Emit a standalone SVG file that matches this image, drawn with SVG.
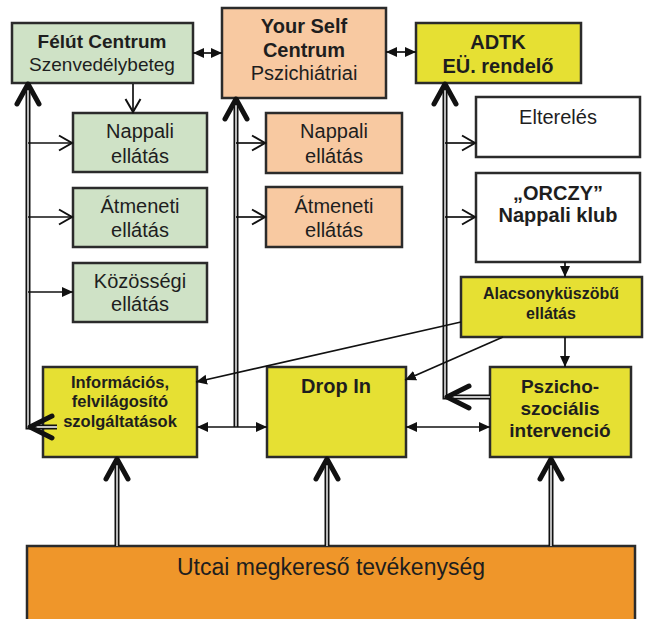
<svg xmlns="http://www.w3.org/2000/svg" width="646" height="619" viewBox="0 0 646 619">
<style>
.box{stroke:#2b2b2b;stroke-width:2.5}
.g{fill:#cfe2c6}.p{fill:#f8c9a1}.y{fill:#e6e033}.w{fill:#ffffff}.o{fill:#ef962a}
text{font-family:"Liberation Sans",Arial,sans-serif;fill:#1e1e1e;text-anchor:middle}
.b{font-weight:bold}
.f20{font-size:20px}.f19{font-size:19px}.f16{font-size:16.5px}.f15{font-size:16px}.f22{font-size:23px}
.thin{fill:none;stroke:#111;stroke-width:1.7}
.dblk{fill:none;stroke:#111;stroke-width:5}
.dblw{fill:none;stroke:#fff;stroke-width:1.4}
.chev{fill:none;stroke:#111;stroke-width:5;stroke-linecap:round;stroke-linejoin:round}
</style>
<defs>
<marker id="fa" markerUnits="userSpaceOnUse" markerWidth="12" markerHeight="12" refX="11" refY="6" orient="auto-start-reverse" viewBox="0 0 12 12">
<path d="M0,1 L11,6 L0,11 z" fill="#111"/>
</marker>
<marker id="oa" markerUnits="userSpaceOnUse" markerWidth="16" markerHeight="18" refX="14" refY="9" orient="auto" viewBox="0 0 16 18">
<path d="M1,1.5 L14,9 L1,16.5" fill="none" stroke="#111" stroke-width="2"/>
</marker>
</defs>

<g id="felut"><rect class="box g" x="12" y="23" width="181" height="60"/>
<text class="b f19" x="102" y="48">Félút Centrum</text>
<text class="f19" x="102" y="71">Szenvedélybeteg</text></g>

<g id="yourself"><rect class="box p" x="222" y="8" width="164" height="90"/>
<text class="b f20" x="304" y="33">Your Self</text>
<text class="b f20" x="304" y="57">Centrum</text>
<text class="f20" x="304" y="80">Pszichiátriai</text></g>

<g id="adtk"><rect class="box y" x="416" y="23" width="165" height="60"/>
<text class="b f20" x="498" y="49">ADTK</text>
<text class="b f20" x="498" y="73">EÜ. rendelő</text></g>

<g id="nappali-g"><rect class="box g" x="73" y="113" width="134" height="59"/>
<text class="f20" x="140" y="138">Nappali</text>
<text class="f20" x="140" y="163">ellátás</text></g>

<g id="atmeneti-g"><rect class="box g" x="73" y="188" width="134" height="59"/>
<text class="f20" x="140" y="213">Átmeneti</text>
<text class="f20" x="140" y="237">ellátás</text></g>

<g id="kozossegi-g"><rect class="box g" x="73" y="263" width="134" height="59"/>
<text class="f20" x="140" y="288">Közösségi</text>
<text class="f20" x="140" y="311">ellátás</text></g>

<g id="nappali-p"><rect class="box p" x="266" y="113" width="136" height="60"/>
<text class="f20" x="334" y="138">Nappali</text>
<text class="f20" x="334" y="163">ellátás</text></g>

<g id="atmeneti-p"><rect class="box p" x="266" y="187" width="136" height="60"/>
<text class="f20" x="334" y="213">Átmeneti</text>
<text class="f20" x="334" y="237">ellátás</text></g>

<g id="elterele"><rect class="box w" x="476" y="97" width="164" height="60"/>
<text class="f20" x="558" y="124">Elterelés</text></g>

<g id="orczy"><rect class="box w" x="476" y="173" width="164" height="89"/>
<text class="b f20" x="558" y="200">„ORCZY”</text>
<text class="b f20" x="558" y="222">Nappali klub</text></g>

<g id="alacsony"><rect class="box y" x="461" y="277" width="181" height="60"/>
<text class="b f15" x="551" y="299">Alacsonyküszöbű</text>
<text class="b f15" x="551" y="319">ellátás</text></g>

<g id="info"><rect class="box y" x="43" y="367" width="154" height="90"/>
<text class="b f16" x="120" y="388">Információs,</text>
<text class="b f16" x="120" y="407">felvilágosító</text>
<text class="b f16" x="120" y="427">szolgáltatások</text></g>

<g id="dropin"><rect class="box y" x="267" y="367" width="139" height="90"/>
<text class="b f20" x="336" y="393">Drop In</text></g>

<g id="pszicho"><rect class="box y" x="490" y="367" width="141" height="90"/>
<text class="b f19" x="560" y="393">Pszicho-</text>
<text class="b f19" x="560" y="415">szociális</text>
<text class="b f19" x="560" y="437">intervenció</text></g>

<g id="utcai"><rect class="box o" x="27" y="546" width="608" height="80"/>
<text class="f22" x="331" y="575">Utcai megkereső tevékenység</text></g>

<g id="connectors">
<path class="dblk" d="M57,427 H28 V84 M236,427 V99 M445,84 V397 H490 M117,546 V459 M327,546 V459 M551,546 V459"/>
<path class="dblw" d="M57,427 H28 V90 M236,427 V105 M445,90 V397 H490 M117,546 V465 M327,546 V465 M551,546 V465"/>
<polyline class="chev" points="17,104 28,84 39,104"/>
<polyline class="chev" points="52,416 30,427 52,438"/>
<polyline class="chev" points="225,119 236,99 247,119"/>
<polyline class="chev" points="434,104 445,84 456,104"/>
<polyline class="chev" points="469,386 447,397 469,408"/>
<polyline class="chev" points="106,479 117,459 128,479"/>
<polyline class="chev" points="316,479 327,459 338,479"/>
<polyline class="chev" points="540,479 551,459 562,479"/>

<path class="thin" d="M193,53 H222" marker-start="url(#fa)" marker-end="url(#fa)"/>
<path class="thin" d="M386,52 H416" marker-start="url(#fa)" marker-end="url(#fa)"/>
<path class="thin" d="M133,84 V112" marker-end="url(#oa)"/>
<path class="thin" d="M28,143 H72" marker-end="url(#oa)"/>
<path class="thin" d="M28,217 H72" marker-end="url(#oa)"/>
<path class="thin" d="M28,292 H73" marker-end="url(#fa)"/>
<path class="thin" d="M236,143 H265" marker-end="url(#oa)"/>
<path class="thin" d="M236,217 H265" marker-end="url(#oa)"/>
<path class="thin" d="M445,143 H475" marker-end="url(#oa)"/>
<path class="thin" d="M445,217 H475" marker-end="url(#oa)"/>
<path class="thin" d="M565,262 V277" marker-end="url(#fa)"/>
<path class="thin" d="M565,337 V367" marker-end="url(#fa)"/>
<path class="thin" d="M461,322 L196,382" marker-end="url(#fa)"/>
<path class="thin" d="M503,337 L405,380" marker-end="url(#fa)"/>
<path class="thin" d="M197,427 H267" marker-start="url(#fa)" marker-end="url(#fa)"/>
<path class="thin" d="M406,427 H490" marker-start="url(#fa)" marker-end="url(#fa)"/>
</g>
</svg>
